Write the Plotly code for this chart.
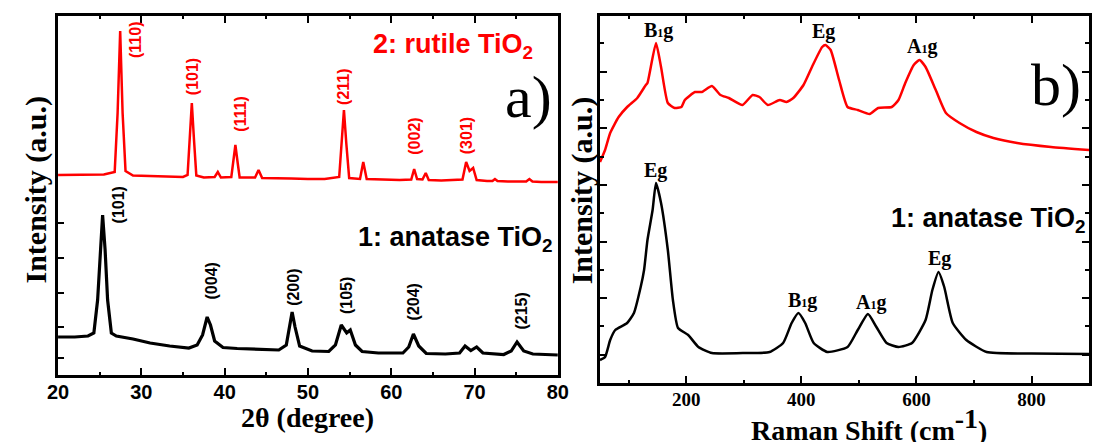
import plotly.graph_objects as go

# ---------------- XRD data (2theta in degrees, intensity a.u.) ----------------
tt_rutile = [20, 22, 24, 25.5, 26.8, 27.15, 27.46, 27.75, 28.1, 29, 31, 33, 35, 35.55, 35.8,
             36.06, 36.3, 36.6, 37.5, 38.8, 39.18, 39.55, 40.8, 41.05, 41.29, 41.55, 41.8, 43.65,
             44.07, 44.5, 46, 48, 50, 52, 53.75, 54.05, 54.32, 54.6, 54.95, 56.25, 56.64, 57.05,
             59, 61, 62.4, 62.75, 63.1, 63.75, 64.14, 64.5, 66, 68.55, 68.99, 69.4, 69.83, 70.25,
             71.5, 72.15, 72.45, 72.75, 74, 76.2, 76.58, 76.95, 78, 80]
int_rutile = [200, 200, 200, 200.5, 203, 262, 344, 262, 204, 199.5, 199, 198.5, 198, 200, 238,
              272, 238, 199.5, 197.5, 198, 203, 197.5, 198, 213, 230, 213, 197.5, 197.5,
              205, 197, 196.5, 196.5, 196, 196, 198, 232, 265, 232, 197, 196, 213, 196,
              195.5, 195, 195.5, 206, 196, 195.5, 202, 195, 194.5, 195.5, 213, 204, 207, 195,
              194, 194, 196, 194, 193.5, 193.5, 196, 193.5, 193, 193]

tt_anatase = [20, 22, 23.6, 24.3, 24.75, 25.05, 25.35, 25.65, 25.95, 26.4, 27, 29, 31.05, 33.4, 35.7,
              36.7, 37.35, 37.9, 38.3, 38.8, 39.8, 41.5, 43.7, 46.5, 47.4, 47.8, 48.1, 48.45, 49.0,
              50.5, 52.5, 53.3, 54.0, 54.65, 55.08, 55.7, 56.5, 58.45, 61.4, 62.1, 62.66, 63.3, 64.2,
              66.5, 68.2, 68.86, 69.55, 70.25, 71.0, 73.5, 74.4, 75.1, 75.9, 77, 80]
int_anatase = [38, 38, 39, 42, 75, 125, 160, 125, 75, 42, 39, 36, 32, 29, 27,
               30, 40, 58, 50, 34, 27.5, 26.5, 25.7, 25, 30, 50, 63, 48, 29,
               24, 23.5, 30, 50, 42, 45, 30, 23.5, 22, 22, 28, 41, 29, 21.5,
               21, 22, 29, 24.5, 28, 22, 20.5, 24, 33, 24, 21, 20]

# ---------------- Raman data (shift in cm-1, intensity a.u.) ----------------
raman_rutile_shift = [50, 58.8, 67.7, 82.4, 97.2, 114.8, 129.6, 132.5, 147.3, 156.1, 167.9, 179.7,
                      191.5, 197.4, 215.1, 226.9, 244.5, 259.3, 274, 297.6, 315.3, 327.1, 341.8,
                      362.4, 374.2, 386, 403.7, 418.4, 436.1, 442, 450.9, 465.6, 480.3, 498, 518.7,
                      533.4, 557, 568.8, 580.6, 595.3, 605.3, 615.9, 633.6, 651.3, 674.9, 704.3,
                      733.8, 775.1, 834, 900]
raman_rutile_int = [221, 233, 250, 266, 276, 285, 298, 300, 340, 316, 280, 275,
                    276, 283, 291, 291, 297, 288, 285, 278, 288, 286, 278,
                    283, 281, 285, 298, 316, 336, 338, 333, 303, 276, 273, 269,
                    275, 276, 283, 300, 318, 323, 316, 293, 270, 260, 251,
                    245, 240, 236, 233]

raman_anatase_shift = [50, 58.8, 67.7, 76.5, 97.2, 109, 120.7, 126.6, 132.5, 141.4, 147.3, 156.1,
                       167.9, 176.7, 185.6, 203.3, 221, 244.5, 303.5, 344.8, 368.3, 383.1, 394.9,
                       406.6, 421.4, 445, 480.3, 498, 515.7, 530.4, 548.1, 568.8, 592.3, 615.9,
                       627.7, 638.3, 648.3, 663.1, 686.7, 722, 800, 900]
raman_anatase_int = [23, 26, 43, 53, 60, 70, 96, 113, 143, 173, 200, 180,
                     133, 83, 55, 48, 36, 30, 30, 31, 40, 60, 70,
                     60, 40, 31, 36, 53, 69, 56, 40, 36, 40, 63,
                     93, 111, 96, 60, 43, 31, 29.5, 29]

# ---------------- labels ----------------
rutile_hkl = ["(110)", "(101)", "(111)", "(211)", "(002)", "(301)"]
anatase_hkl = ["(101)", "(004)", "(200)", "(105)", "(204)", "(215)"]
rutile_modes = ["B<span style='font-size:12px'>1</span>g", "Eg", "A<span style='font-size:12px'>1</span>g"]
anatase_modes = ["Eg", "B<span style='font-size:12px'>1</span>g", "A<span style='font-size:12px'>1</span>g", "Eg"]

RED = "#ff0000"
SANS = "Arial, Liberation Sans, sans-serif"
SERIF = "Times New Roman, Liberation Serif, serif"
W, H = 1102, 442


def px(x):
    return x / W


def py(y):
    return 1 - y / H


fig = go.Figure()
fig.add_trace(go.Scatter(x=tt_rutile, y=int_rutile, mode="lines",
                         line=dict(color=RED, width=2.5), xaxis="x", yaxis="y", showlegend=False))
fig.add_trace(go.Scatter(x=tt_anatase, y=int_anatase, mode="lines",
                         line=dict(color="black", width=3.2), xaxis="x", yaxis="y", showlegend=False))
fig.add_trace(go.Scatter(x=raman_rutile_shift, y=raman_rutile_int, mode="lines",
                         line=dict(color=RED, width=2.5, shape="spline", smoothing=0.5),
                         xaxis="x2", yaxis="y2", showlegend=False))
fig.add_trace(go.Scatter(x=raman_anatase_shift, y=raman_anatase_int, mode="lines",
                         line=dict(color="black", width=2.5, shape="spline", smoothing=0.5),
                         xaxis="x2", yaxis="y2", showlegend=False))

axis_common = dict(showline=True, linecolor="black", linewidth=2.5, showgrid=False,
                   zeroline=False, ticks="inside", tickcolor="black", tickwidth=2)

left_x = [px(48), px(558)]
right_x = [px(601), px(1100)]

fig.update_layout(
    width=W, height=H, margin=dict(l=0, r=0, t=0, b=0),
    paper_bgcolor="white", plot_bgcolor="white",
    xaxis=dict(domain=left_x, range=[20, 80], anchor="y", dtick=10, tick0=20, ticklen=7,
               mirror="ticks", minor=dict(dtick=5, ticklen=3, ticks="inside", tickcolor="black", tickwidth=2),
               tickfont=dict(family=SANS, size=20, color="black", weight="bold"),
               ticklabelstandoff=-3, **axis_common),
    yaxis=dict(domain=[py(375), py(16)], range=[0, 359], anchor="x", mirror=True,
               tickvals=[17, 48, 82, 117, 152], ticklen=6, showticklabels=False, **axis_common),
    yaxis3=dict(domain=[py(197), py(27)], range=[0, 170], anchor="x", showline=False,
                showgrid=False, zeroline=False, ticks="inside", tickcolor="black", tickwidth=2,
                ticklen=5, dtick=10.6, tick0=0, showticklabels=False,
                minor=dict(dtick=5.3, ticklen=3, ticks="inside", tickcolor="black", tickwidth=2)),
    xaxis2=dict(domain=right_x, range=[50, 900], anchor="y2", dtick=200, tick0=0, ticklen=7,
                mirror="ticks", minor=dict(dtick=100, ticklen=3, ticks="inside", tickcolor="black", tickwidth=2),
                tickfont=dict(family=SERIF, size=19, color="black", weight="bold"),
                ticklabelstandoff=-3, **axis_common),
    yaxis2=dict(domain=[py(383), py(16)], range=[0, 367], anchor="x2", mirror="ticks",
                tick0=28.3, dtick=56.6, ticklen=7, showticklabels=False,
                minor=dict(dtick=28.3, tick0=0, ticklen=4, ticks="inside", tickcolor="black", tickwidth=2),
                **axis_common),
)

ann = []
# XRD hkl labels
for t, x, y in zip(rutile_hkl, [29.36, 36.1, 41.8, 54.2, 62.7, 69.0], [335, 298, 261, 288, 239, 239]):
    ann.append(dict(text=t, x=x, y=y, xref="x", yref="y", textangle=-90, showarrow=False,
                    font=dict(family=SANS, size=16, color=RED, weight="bold")))
for t, x, y in zip(anatase_hkl, [27.25, 38.42, 48.25, 54.57, 62.66, 75.52], [170, 94, 87.5, 79, 73, 64]):
    ann.append(dict(text=t, x=x, y=y, xref="x", yref="y", textangle=-90, showarrow=False,
                    font=dict(family=SANS, size=16, color="black", weight="bold")))
ann.append(dict(text="2: rutile TiO<sub>2</sub>", x=77.3, y=329, xref="x", yref="y",
                xanchor="right", yanchor="middle", showarrow=False,
                font=dict(family=SANS, size=27, color=RED, weight="bold")))
ann.append(dict(text="1: anatase TiO<sub>2</sub>", x=79.6, y=136, xref="x", yref="y",
                xanchor="right", yanchor="middle", showarrow=False,
                font=dict(family=SANS, size=27, color="black", weight="bold")))
ann.append(dict(text="a)", x=79.5, y=278, xref="x", yref="y", xanchor="right", yanchor="middle",
                showarrow=False, font=dict(family=SERIF, size=60, color="black")))

# Raman mode labels
for t, x, y in zip(rutile_modes, [151, 439, 610], [352, 351, 336]):
    ann.append(dict(text=t, x=x, y=y, xref="x2", yref="y2", showarrow=False,
                    font=dict(family=SERIF, size=20, color="black", weight="bold")))
for t, x, y in zip(anatase_modes, [147, 402, 521.6, 639.5], [213, 83, 81, 125]):
    ann.append(dict(text=t, x=x, y=y, xref="x2", yref="y2", showarrow=False,
                    font=dict(family=SERIF, size=20, color="black", weight="bold")))
ann.append(dict(text="2: rutile TiO<sub>2</sub>", x=902, y=341, xref="x2", yref="y2",
                xanchor="right", yanchor="middle", showarrow=False,
                font=dict(family=SANS, size=24, color=RED, weight="bold")))
ann.append(dict(text="1: anatase TiO<sub>2</sub>", x=898, y=163, xref="x2", yref="y2",
                xanchor="right", yanchor="middle", showarrow=False,
                font=dict(family=SANS, size=27, color="black", weight="bold")))
ann.append(dict(text="b)", x=890, y=298, xref="x2", yref="y2", xanchor="right", yanchor="middle",
                showarrow=False, font=dict(family=SERIF, size=60, color="black")))

# axis titles
ann.append(dict(text="2θ (degree)", x=px(303), y=py(417), xref="paper", yref="paper",
                xanchor="center", yanchor="middle", showarrow=False,
                font=dict(family=SERIF, size=28, color="black", weight="bold")))
ann.append(dict(text="Raman Shift (cm<sup><span style='font-size:28px'>-1</span></sup>)",
                x=px(875), y=py(424), xref="paper", yref="paper",
                xanchor="center", yanchor="middle", showarrow=False,
                font=dict(family=SERIF, size=28, color="black", weight="bold")))
for xx in [25, 583]:
    ann.append(dict(text="Intensity (a.u.)", x=px(xx), y=py(190), xref="paper", yref="paper",
                    xanchor="center", yanchor="middle", textangle=-90, showarrow=False,
                    font=dict(family=SERIF, size=30, color="black", weight="bold")))

fig.update_layout(annotations=ann)
fig.write_html("out.html", config={"displayModeBar": False},
               post_script="document.body.style.margin='0px';")
